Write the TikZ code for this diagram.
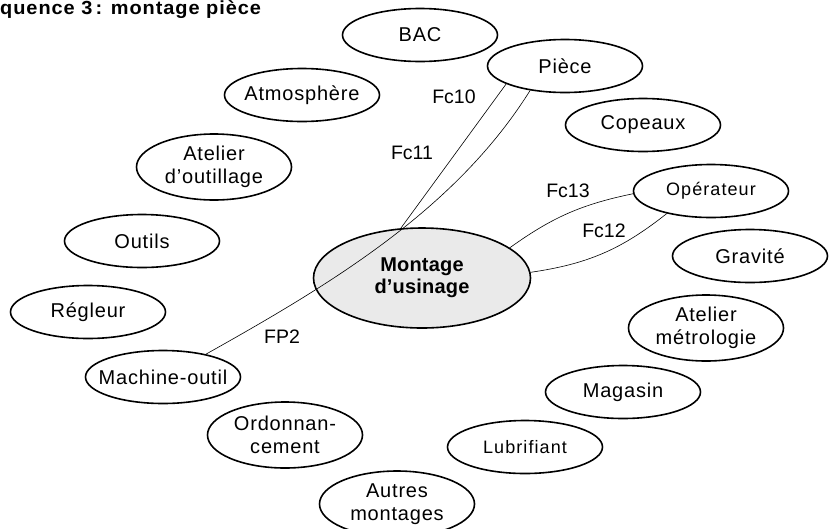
\documentclass[tikz,border=0pt]{standalone}
\usepackage{fontspec}
\setmainfont{Liberation Sans}
\usetikzlibrary{shapes.geometric}
\definecolor{sysgray}{RGB}{234,234,234}

\begin{document}
\begin{tikzpicture}[
    x=1pt, y=-1pt,
    ent/.style={ellipse, draw, line width=1.6pt, minimum width=155pt, minimum height=53pt,
        inner xsep=-40pt, inner ysep=-20pt, align=center,
        font=\fontsize{20}{23}\selectfont\addfontfeature{LetterSpace=4}},
    entsmall/.style={ent, font=\fontsize{18}{21}\selectfont\addfontfeature{LetterSpace=6}},
    enttwo/.style={ent, minimum height=66pt},
    sys/.style={ent, fill=sysgray, minimum width=217pt, minimum height=100pt,
        font=\fontsize{20}{22}\selectfont\bfseries\addfontfeature{LetterSpace=1}},
    fct/.style={font=\fontsize{19.5}{22}\selectfont, inner sep=0pt},
    link/.style={line width=0.6pt}
]
    \clip (0,0) rectangle (829,528);

    % ---- title ----
    \node[anchor=base west, inner sep=0pt,
          font=\fontsize{19}{22}\selectfont\bfseries\addfontfeature{FakeStretch=1.05,LetterSpace=5}]
          (title) at (0,14) {quence 3\,: montage pièce};

    % ---- milieu exterieur ----
    \node[ent] (bac) at (420,35) {BAC};
    \node[ent] (atmo) at (302,95) {Atmosphère};
    \node[enttwo] (outillage) at (214,167) {Atelier\\d’outillage};
    \node[ent] (outils) at (142,241) {Outils};
    \node[ent] (regleur) at (88,312) {Régleur};
    \node[ent] (machine) at (163,377) {Machine-outil};
    \node[enttwo] (ordo) at (285,435) {Ordonnan-\\cement};
    \node[enttwo] (autres) at (397,504) {Autres\\montages};
    \node[entsmall] (lubri) at (525,447) {Lubrifiant};
    \node[ent] (magasin) at (623,392) {Magasin};
    \node[enttwo] (metro) at (706,328) {Atelier\\métrologie};
    \node[ent] (gravite) at (750,256) {Gravité};
    \node[entsmall] (operateur) at (711,191) {Opérateur};
    \node[ent] (copeaux) at (643,125) {Copeaux};
    \node[ent] (piece) at (565,66) {Pièce};

    % ---- systeme ----
    \node[sys] (montage) at (422,278) {Montage\\d’usinage};

    % ---- fonctions ----
    \draw[link] (piece.197) -- (montage.113);
    \draw[link] (piece.215) .. controls +(-75,120) and +(123,-69) .. (machine.28);
    \draw[link] (montage.19) to[bend left=12] (operateur.182);
    \draw[link] (montage.3) to[bend right=15] (operateur.207);

    \node[fct] (fc10) at (454,97) {Fc10};
    \node[fct] (fc11) at (412,153) {Fc11};
    \node[fct] (fc13) at (568,191) {Fc13};
    \node[fct] (fc12) at (604,231) {Fc12};
    \node[fct] (fp2) at (282,337) {FP2};
\end{tikzpicture}
\end{document}
